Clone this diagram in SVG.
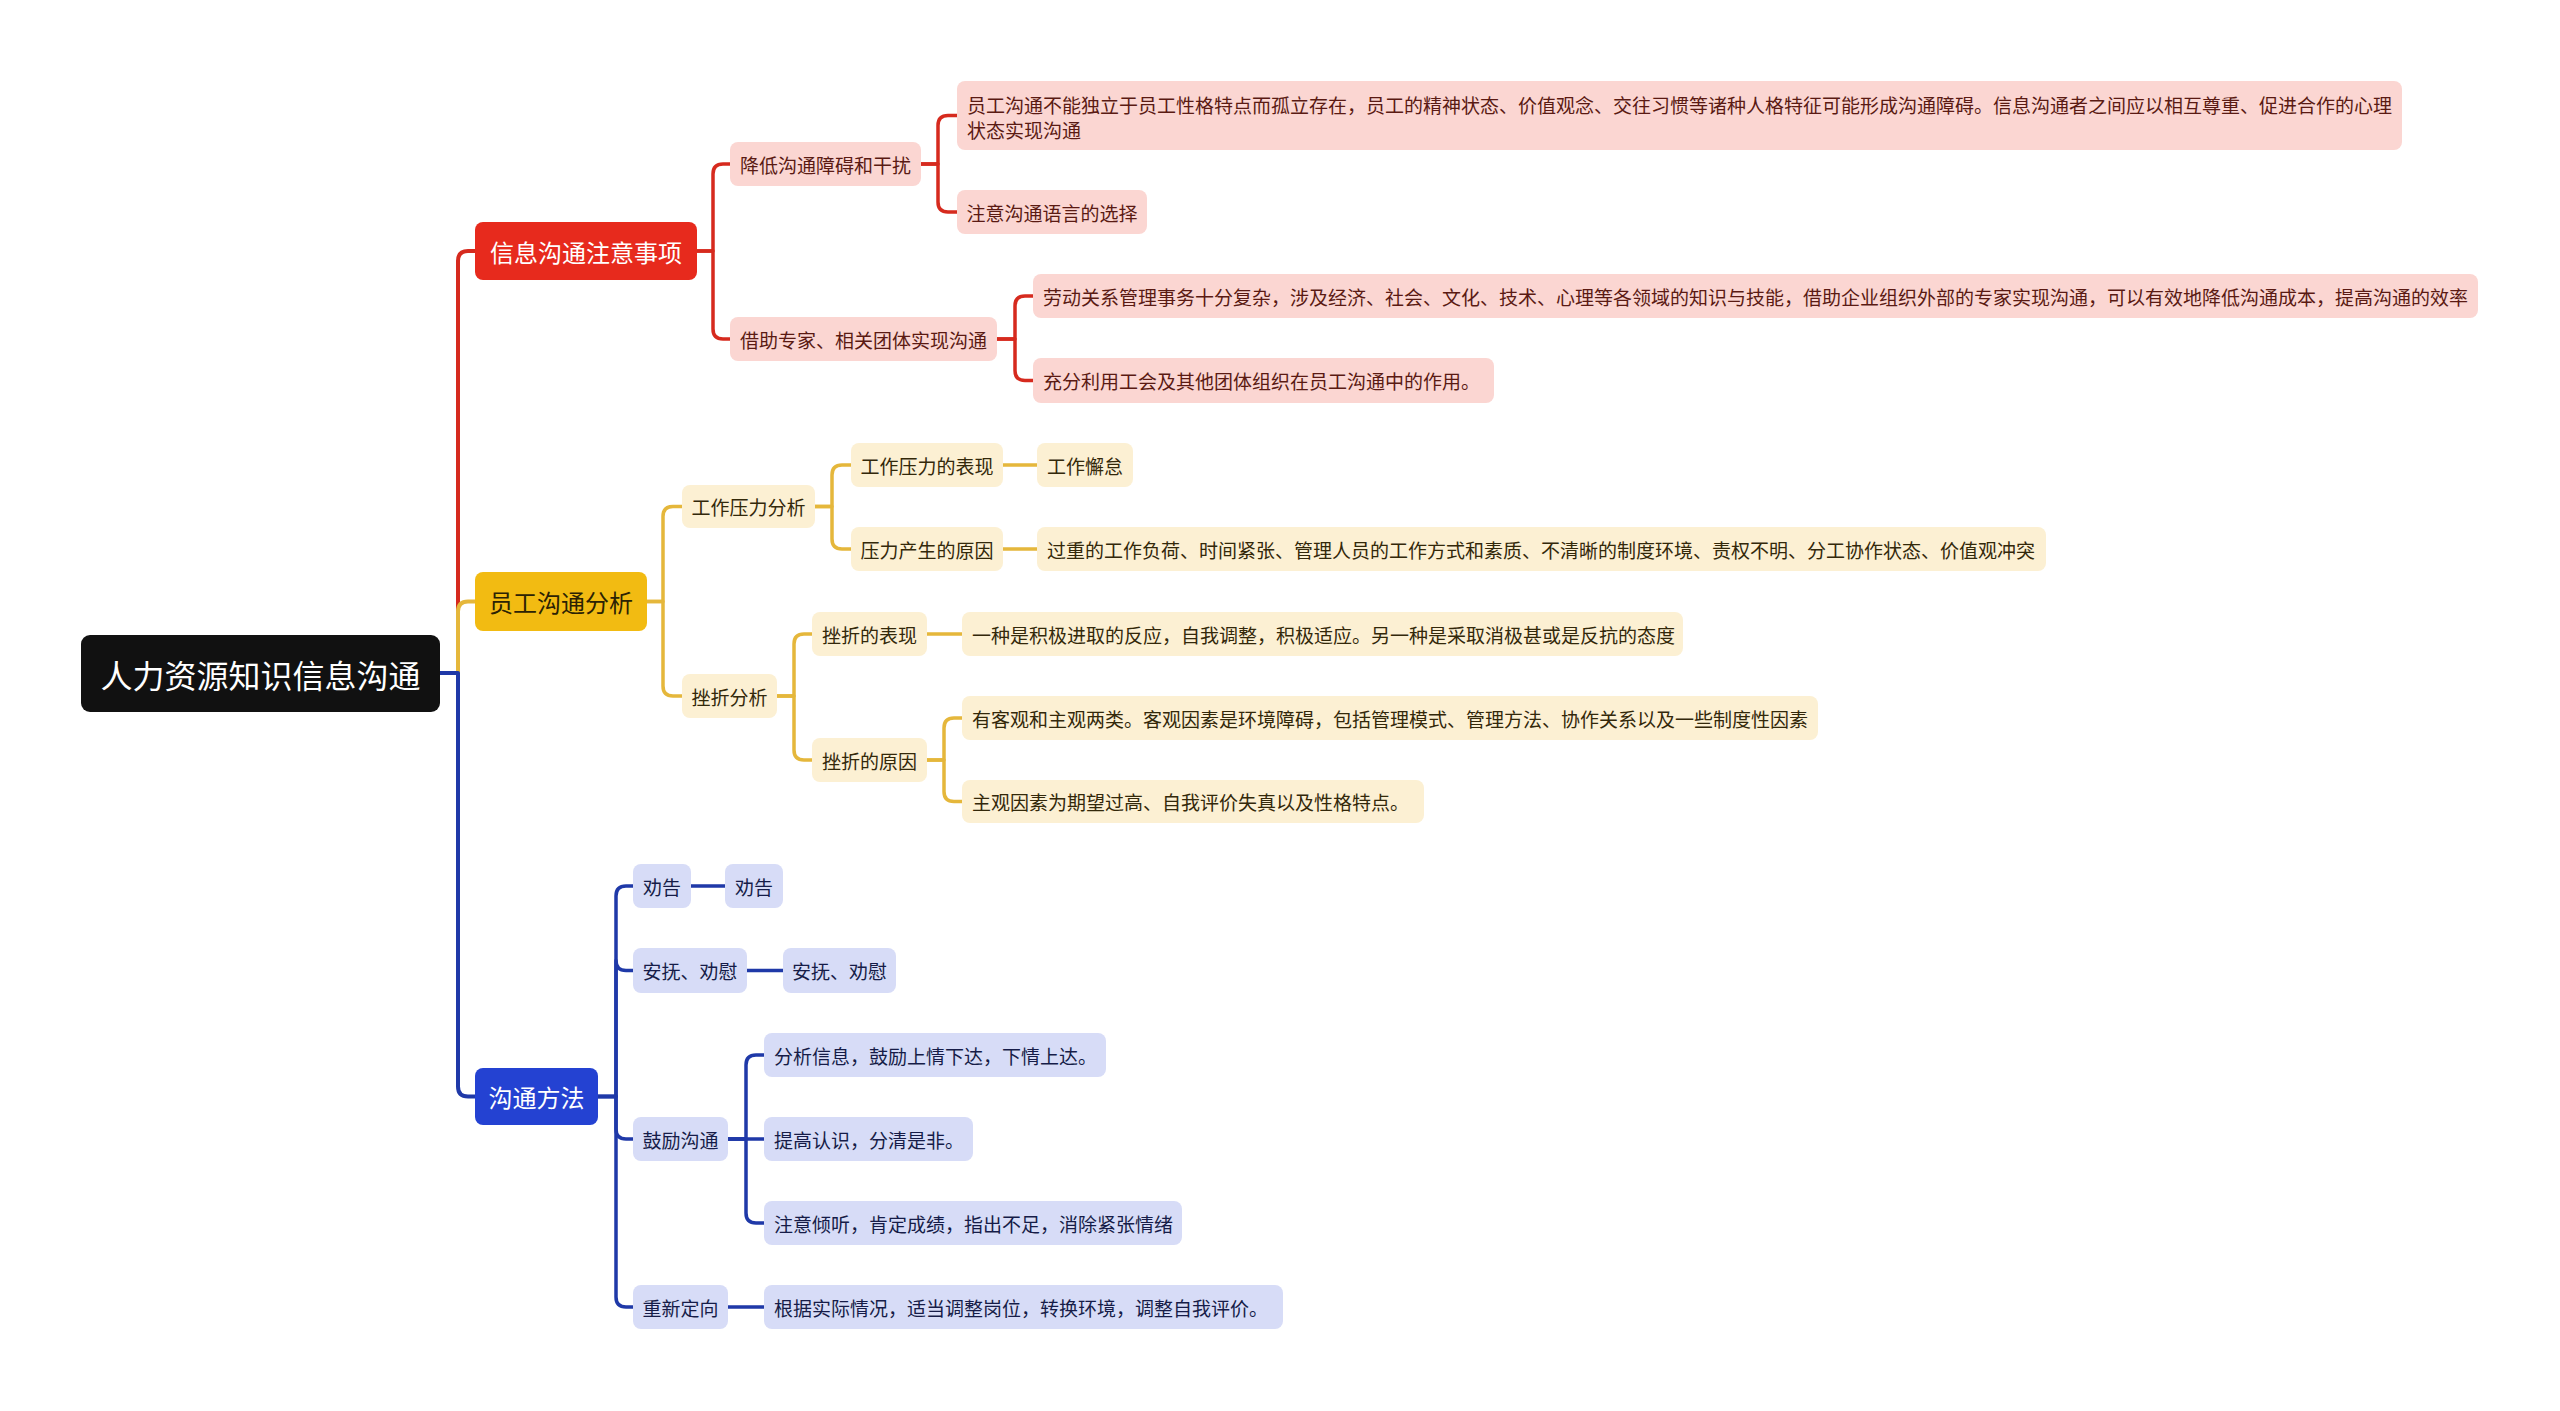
<svg xmlns="http://www.w3.org/2000/svg" width="2560" height="1411" viewBox="0 0 2560 1411">
<style>
text{font-family:"Noto Sans CJK SC","Microsoft YaHei","Liberation Sans",sans-serif;dominant-baseline:central}
.t{font-size:19px}
.m{text-anchor:middle}
.root rect{fill:#111111}
.root text{fill:#ffffff;font-size:32px;text-anchor:middle}
.b1 text{font-size:24px;text-anchor:middle}
.rb rect{fill:#E72A1D}.rb text{fill:#ffffff}
.yb rect{fill:#F2BB12}.yb text{fill:#2B2204}
.bb rect{fill:#2442D2}.bb text{fill:#ffffff}
.rl rect{fill:#FBD6D2}.rl text{fill:#5A1A13}
.yl rect{fill:#FCF0D3}.yl text{fill:#33280A}
.bl rect{fill:#D7DCF7}.bl text{fill:#161C48}
.c path{fill:none;stroke-linecap:round;stroke-linejoin:round}
.cr{stroke:#D62A1E}.cy{stroke:#E5B73B}.cb{stroke:#1F39A8}
.w1{stroke-width:4}.w2{stroke-width:3.5}
</style>
<rect width="2560" height="1411" fill="#ffffff"/>

<g id="connectors" class="c">
  <path class="cr w1" d="M440 673 H458 V261 Q458 251 468 251 H475"/>
  <path class="cy w1" d="M440 673 H458 V611.5 Q458 601.5 468 601.5 H475"/>
  <path class="cb w1" d="M440 673 H458 V1086.5 Q458 1096.5 468 1096.5 H475"/>

  <path class="cr w2" d="M697 251 H713 V174 Q713 164 723 164 H730"/>
  <path class="cr w2" d="M697 251 H713 V329 Q713 339 723 339 H730"/>
  <path class="cr w2" d="M921 164 H938 V125.5 Q938 115.5 948 115.5 H957"/>
  <path class="cr w2" d="M921 164 H938 V202 Q938 212 948 212 H957"/>
  <path class="cr w2" d="M997 339 H1015 V306 Q1015 296 1025 296 H1033"/>
  <path class="cr w2" d="M997 339 H1015 V370.5 Q1015 380.5 1025 380.5 H1033"/>

  <path class="cy w2" d="M647 601.5 H663 V516.5 Q663 506.5 673 506.5 H682"/>
  <path class="cy w2" d="M647 601.5 H663 V686 Q663 696 673 696 H682"/>
  <path class="cy w2" d="M815 506.5 H832 V475 Q832 465 842 465 H851"/>
  <path class="cy w2" d="M815 506.5 H832 V539 Q832 549 842 549 H851"/>
  <path class="cy w2" d="M1003 465 H1037"/>
  <path class="cy w2" d="M1003 549 H1037"/>
  <path class="cy w2" d="M777 696 H794 V644 Q794 634 804 634 H812"/>
  <path class="cy w2" d="M777 696 H794 V750 Q794 760 804 760 H812"/>
  <path class="cy w2" d="M927 634 H962"/>
  <path class="cy w2" d="M927 760 H944 V728 Q944 718 954 718 H962"/>
  <path class="cy w2" d="M927 760 H944 V791.5 Q944 801.5 954 801.5 H962"/>

  <path class="cb w2" d="M598 1096.5 H616 V896 Q616 886 626 886 H633"/>
  <path class="cb w2" d="M598 1096.5 H616 V960.5 Q616 970.5 626 970.5 H633"/>
  <path class="cb w2" d="M598 1096.5 H616 V1129 Q616 1139 626 1139 H633"/>
  <path class="cb w2" d="M598 1096.5 H616 V1297 Q616 1307 626 1307 H633"/>
  <path class="cb w2" d="M691 886 H725"/>
  <path class="cb w2" d="M747 970.5 H783"/>
  <path class="cb w2" d="M728 1139 H746 V1065 Q746 1055 756 1055 H764"/>
  <path class="cb w2" d="M728 1139 H764"/>
  <path class="cb w2" d="M728 1139 H746 V1213 Q746 1223 756 1223 H764"/>
  <path class="cb w2" d="M728 1307 H764"/>
</g>

<g id="root" class="root"><rect x="81" y="635" width="359" height="77" rx="9"/><text x="260.5" y="673.5">人力资源知识信息沟通</text></g>

<g id="n-red" class="b1 rb"><rect x="475" y="222" width="222" height="58" rx="8"/><text x="586" y="251">信息沟通注意事项</text></g>
<g id="n-yellow" class="b1 yb"><rect x="475" y="572" width="172" height="59" rx="8"/><text x="561" y="601.5">员工沟通分析</text></g>
<g id="n-blue" class="b1 bb"><rect x="475" y="1068" width="123" height="57" rx="8"/><text x="536.5" y="1096.5">沟通方法</text></g>

<g id="n-r1" class="rl"><rect x="730" y="142" width="191" height="44" rx="8"/><text class="t m" x="825.5" y="164">降低沟通障碍和干扰</text></g>
<g id="n-r2" class="rl"><rect x="730" y="317" width="267" height="44" rx="8"/><text class="t m" x="863.5" y="339">借助专家、相关团体实现沟通</text></g>
<g id="n-r1a" class="rl"><rect x="957" y="81" width="1445" height="69" rx="8"/><text class="t" x="967" y="104">员工沟通不能独立于员工性格特点而孤立存在，员工的精神状态、价值观念、交往习惯等诸种人格特征可能形成沟通障碍。信息沟通者之间应以相互尊重、促进合作的心理</text><text class="t" x="967" y="129">状态实现沟通</text></g>
<g id="n-r1b" class="rl"><rect x="957" y="190" width="190" height="44" rx="8"/><text class="t m" x="1052" y="212">注意沟通语言的选择</text></g>
<g id="n-r2a" class="rl"><rect x="1033" y="274" width="1445" height="44" rx="8"/><text class="t" x="1043" y="296">劳动关系管理事务十分复杂，涉及经济、社会、文化、技术、心理等各领域的知识与技能，借助企业组织外部的专家实现沟通，可以有效地降低沟通成本，提高沟通的效率</text></g>
<g id="n-r2b" class="rl"><rect x="1033" y="358" width="461" height="45" rx="8"/><text class="t" x="1043" y="380.5">充分利用工会及其他团体组织在员工沟通中的作用。</text></g>

<g id="n-y1" class="yl"><rect x="682" y="485" width="133" height="43" rx="8"/><text class="t m" x="748.5" y="506.5">工作压力分析</text></g>
<g id="n-y2" class="yl"><rect x="682" y="674" width="95" height="44" rx="8"/><text class="t m" x="729.5" y="696">挫折分析</text></g>
<g id="n-y1a" class="yl"><rect x="851" y="443" width="152" height="44" rx="8"/><text class="t m" x="927" y="465">工作压力的表现</text></g>
<g id="n-y1a1" class="yl"><rect x="1037" y="443" width="96" height="44" rx="8"/><text class="t m" x="1085" y="465">工作懈怠</text></g>
<g id="n-y1b" class="yl"><rect x="851" y="527" width="152" height="44" rx="8"/><text class="t m" x="927" y="549">压力产生的原因</text></g>
<g id="n-y1b1" class="yl"><rect x="1037" y="527" width="1009" height="44" rx="8"/><text class="t" x="1047" y="549">过重的工作负荷、时间紧张、管理人员的工作方式和素质、不清晰的制度环境、责权不明、分工协作状态、价值观冲突</text></g>
<g id="n-y2a" class="yl"><rect x="812" y="612" width="115" height="44" rx="8"/><text class="t m" x="869.5" y="634">挫折的表现</text></g>
<g id="n-y2a1" class="yl"><rect x="962" y="612" width="721" height="44" rx="8"/><text class="t" x="972" y="634">一种是积极进取的反应，自我调整，积极适应。另一种是采取消极甚或是反抗的态度</text></g>
<g id="n-y2b" class="yl"><rect x="812" y="738" width="115" height="44" rx="8"/><text class="t m" x="869.5" y="760">挫折的原因</text></g>
<g id="n-y2b1" class="yl"><rect x="962" y="696" width="856" height="44" rx="8"/><text class="t" x="972" y="718">有客观和主观两类。客观因素是环境障碍，包括管理模式、管理方法、协作关系以及一些制度性因素</text></g>
<g id="n-y2b2" class="yl"><rect x="962" y="780" width="462" height="43" rx="8"/><text class="t" x="972" y="801.5">主观因素为期望过高、自我评价失真以及性格特点。</text></g>

<g id="n-b1" class="bl"><rect x="633" y="864" width="58" height="44" rx="8"/><text class="t m" x="662" y="886">劝告</text></g>
<g id="n-b1a" class="bl"><rect x="725" y="864" width="58" height="44" rx="8"/><text class="t m" x="754" y="886">劝告</text></g>
<g id="n-b2" class="bl"><rect x="633" y="948" width="114" height="45" rx="8"/><text class="t m" x="690" y="970.5">安抚、劝慰</text></g>
<g id="n-b2a" class="bl"><rect x="783" y="948" width="113" height="45" rx="8"/><text class="t m" x="839.5" y="970.5">安抚、劝慰</text></g>
<g id="n-b3" class="bl"><rect x="633" y="1117" width="95" height="44" rx="8"/><text class="t m" x="680.5" y="1139">鼓励沟通</text></g>
<g id="n-b3a" class="bl"><rect x="764" y="1033" width="342" height="44" rx="8"/><text class="t" x="774" y="1055">分析信息，鼓励上情下达，下情上达。</text></g>
<g id="n-b3b" class="bl"><rect x="764" y="1117" width="209" height="44" rx="8"/><text class="t" x="774" y="1139">提高认识，分清是非。</text></g>
<g id="n-b3c" class="bl"><rect x="764" y="1201" width="418" height="44" rx="8"/><text class="t" x="774" y="1223">注意倾听，肯定成绩，指出不足，消除紧张情绪</text></g>
<g id="n-b4" class="bl"><rect x="633" y="1285" width="95" height="44" rx="8"/><text class="t m" x="680.5" y="1307">重新定向</text></g>
<g id="n-b4a" class="bl"><rect x="764" y="1285" width="519" height="44" rx="8"/><text class="t" x="774" y="1307">根据实际情况，适当调整岗位，转换环境，调整自我评价。</text></g>
</svg>
